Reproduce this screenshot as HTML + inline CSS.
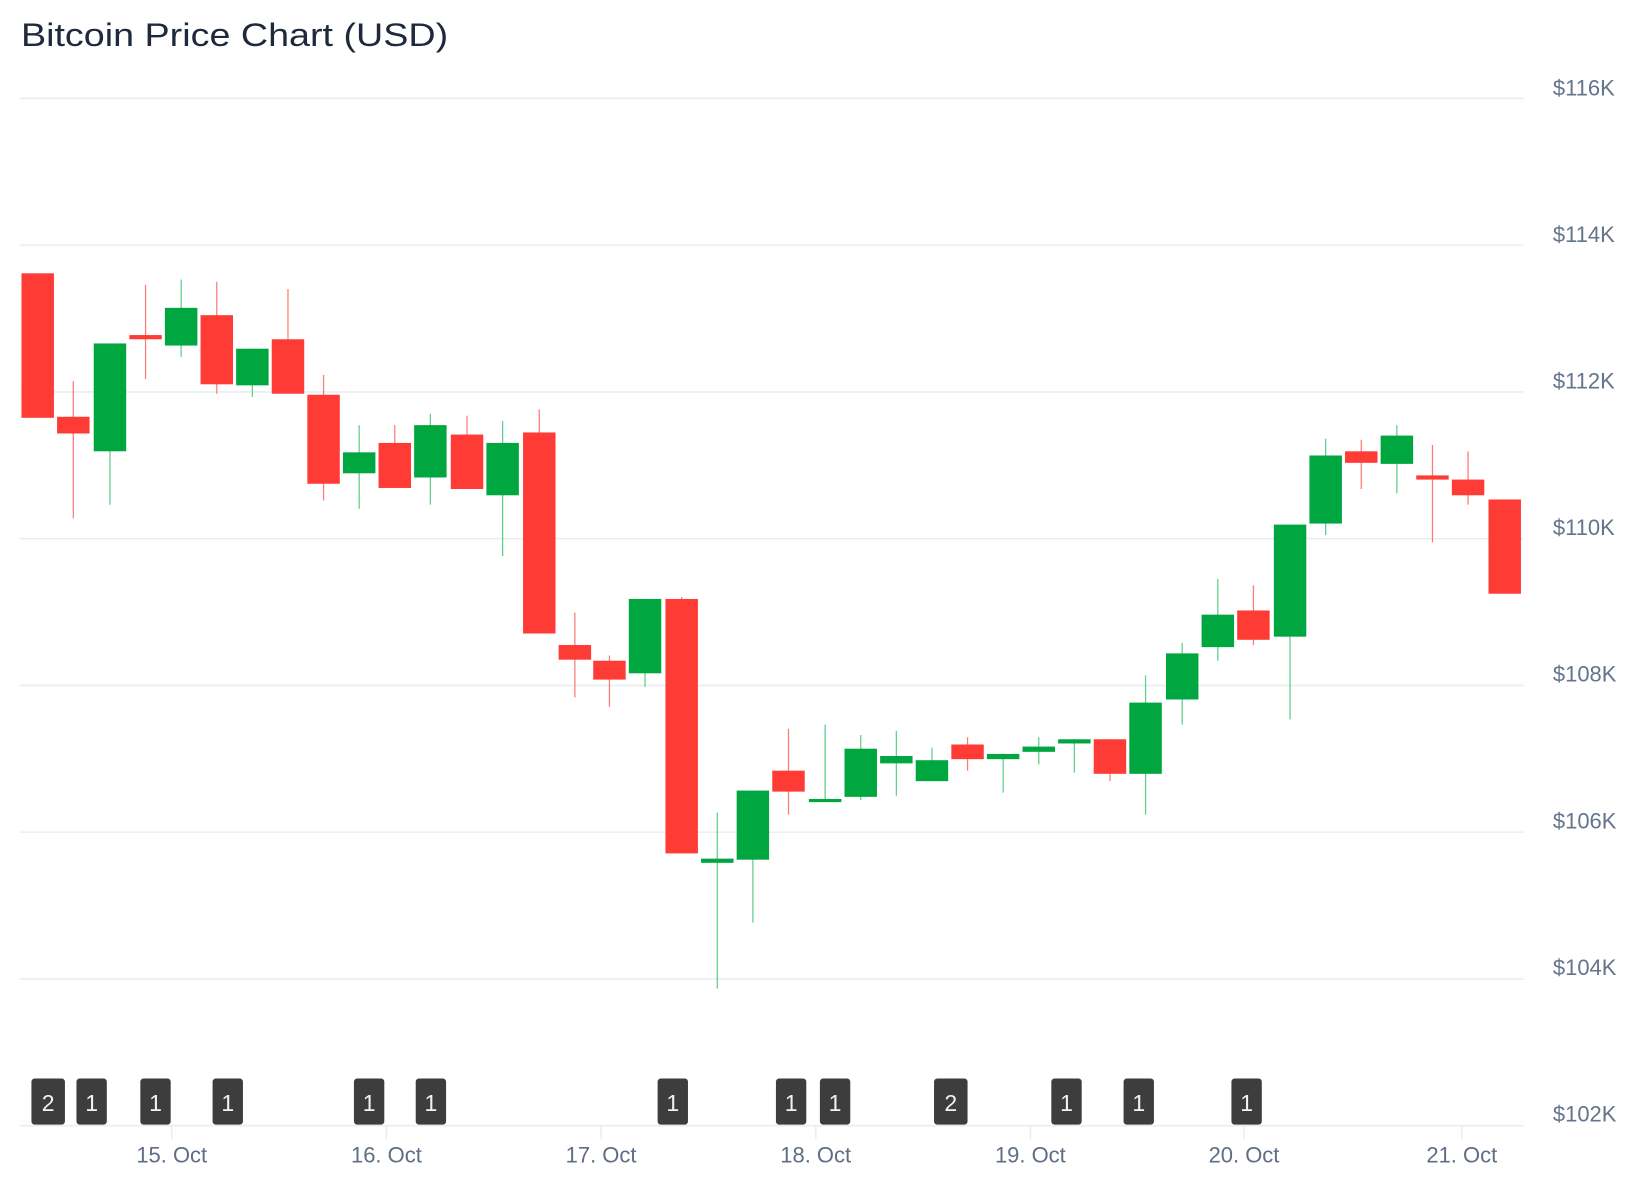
<!DOCTYPE html>
<html><head><meta charset="utf-8"><style>
html,body{margin:0;padding:0;background:#fff;width:1644px;height:1200px;overflow:hidden}
svg{display:block}
text{font-family:"Liberation Sans","DejaVu Sans",sans-serif}
</style></head><body>
<svg width="1644" height="1200" viewBox="0 0 1570 1146" xmlns="http://www.w3.org/2000/svg">
<text x="20" y="44" font-size="31" fill="#1e293b" textLength="408" lengthAdjust="spacingAndGlyphs">Bitcoin Price Chart (USD)</text>
<g stroke="#e9edf2" stroke-width="1.5">
<line x1="19" y1="94" x2="1455" y2="94"/><line x1="19" y1="234.1" x2="1455" y2="234.1"/>
<line x1="19" y1="374.3" x2="1455" y2="374.3"/><line x1="19" y1="514.4" x2="1455" y2="514.4"/>
<line x1="19" y1="654.6" x2="1455" y2="654.6"/><line x1="19" y1="794.7" x2="1455" y2="794.7"/>
<line x1="19" y1="934.9" x2="1455" y2="934.9"/><line x1="19" y1="1075" x2="1455" y2="1075"/>
<line x1="164" y1="1075" x2="164" y2="1088"/><line x1="369" y1="1075" x2="369" y2="1088"/>
<line x1="574" y1="1075" x2="574" y2="1088"/><line x1="779" y1="1075" x2="779" y2="1088"/>
<line x1="984" y1="1075" x2="984" y2="1088"/><line x1="1188" y1="1075" x2="1188" y2="1088"/>
<line x1="1396" y1="1075" x2="1396" y2="1088"/>
</g>
<g font-size="21" fill="#64748b">
<text x="1483" y="91">$116K</text><text x="1483" y="231">$114K</text><text x="1483" y="371">$112K</text>
<text x="1483" y="511">$110K</text><text x="1483" y="651">$108K</text><text x="1483" y="791">$106K</text>
<text x="1483" y="931">$104K</text><text x="1483" y="1071">$102K</text>
</g>
<g font-size="21" fill="#5f6e85" text-anchor="middle">
<text x="164" y="1110">15. Oct</text><text x="369" y="1110">16. Oct</text><text x="574" y="1110">17. Oct</text>
<text x="779" y="1110">18. Oct</text><text x="984" y="1110">19. Oct</text><text x="1188" y="1110">20. Oct</text>
<text x="1396" y="1110">21. Oct</text>
</g>
<g stroke-width="1.2">
<g stroke="#ff7a75">
<line x1="70" y1="364" x2="70" y2="495"/><line x1="139" y1="272" x2="139" y2="362"/>
<line x1="207" y1="269" x2="207" y2="376"/><line x1="275" y1="276" x2="275" y2="376"/>
<line x1="309" y1="358" x2="309" y2="478"/><line x1="377" y1="406" x2="377" y2="466"/>
<line x1="446" y1="397" x2="446" y2="467"/><line x1="515" y1="391" x2="515" y2="605"/>
<line x1="549" y1="585" x2="549" y2="666"/><line x1="582" y1="626" x2="582" y2="675"/>
<line x1="651" y1="570" x2="651" y2="815"/><line x1="753" y1="696" x2="753" y2="778"/>
<line x1="924" y1="704" x2="924" y2="736"/><line x1="1060" y1="706" x2="1060" y2="746"/>
<line x1="1197" y1="559" x2="1197" y2="616"/><line x1="1300" y1="420" x2="1300" y2="467"/>
<line x1="1368" y1="425" x2="1368" y2="518"/><line x1="1402" y1="431" x2="1402" y2="482"/>
</g>
<g stroke="#5fcf8c">
<line x1="105" y1="328" x2="105" y2="482"/><line x1="173" y1="267" x2="173" y2="341"/>
<line x1="241" y1="333" x2="241" y2="379"/><line x1="343" y1="406" x2="343" y2="486"/>
<line x1="411" y1="395" x2="411" y2="482"/><line x1="480" y1="402" x2="480" y2="531"/>
<line x1="616" y1="572" x2="616" y2="656"/><line x1="685" y1="776" x2="685" y2="944"/>
<line x1="719" y1="755" x2="719" y2="881"/><line x1="788" y1="692" x2="788" y2="766"/>
<line x1="822" y1="702" x2="822" y2="764"/><line x1="856" y1="698" x2="856" y2="760"/>
<line x1="890" y1="714" x2="890" y2="746"/><line x1="958" y1="720" x2="958" y2="757"/>
<line x1="992" y1="704" x2="992" y2="730"/><line x1="1026" y1="706" x2="1026" y2="738"/>
<line x1="1094" y1="645" x2="1094" y2="778"/><line x1="1129" y1="614" x2="1129" y2="692"/>
<line x1="1163" y1="553" x2="1163" y2="631"/><line x1="1232" y1="501" x2="1232" y2="687"/>
<line x1="1266" y1="419" x2="1266" y2="511"/><line x1="1334" y1="406" x2="1334" y2="471"/>
</g>
</g>
<g fill="#ff3b35">
<rect x="20.5" y="261" width="31" height="138"/><rect x="54.5" y="398" width="31" height="16"/>
<rect x="123.5" y="320" width="31" height="4"/><rect x="191.5" y="301" width="31" height="66"/>
<rect x="259.5" y="324" width="31" height="52"/><rect x="293.5" y="377" width="31" height="85"/>
<rect x="361.5" y="423" width="31" height="43"/><rect x="430.5" y="415" width="31" height="52"/>
<rect x="499.5" y="413" width="31" height="192"/><rect x="533.5" y="616" width="31" height="14"/>
<rect x="566.5" y="631" width="31" height="18"/><rect x="635.5" y="572" width="31" height="243"/>
<rect x="737.5" y="736" width="31" height="20"/><rect x="908.5" y="711" width="31" height="14"/>
<rect x="1044.5" y="706" width="31" height="33"/><rect x="1181.5" y="583" width="31" height="28"/>
<rect x="1284.5" y="431" width="31" height="11"/><rect x="1352.5" y="454" width="31" height="4"/>
<rect x="1386.5" y="458" width="31" height="15"/><rect x="1421.5" y="477" width="31" height="90"/>
</g>
<g fill="#00a63f">
<rect x="89.5" y="328" width="31" height="103"/><rect x="157.5" y="294" width="31" height="36"/>
<rect x="225.5" y="333" width="31" height="35"/><rect x="327.5" y="432" width="31" height="20"/>
<rect x="395.5" y="406" width="31" height="50"/><rect x="464.5" y="423" width="31" height="50"/>
<rect x="600.5" y="572" width="31" height="71"/><rect x="669.5" y="820" width="31" height="4"/>
<rect x="703.5" y="755" width="31" height="66"/><rect x="772.5" y="763" width="31" height="3"/>
<rect x="806.5" y="715" width="31" height="46"/><rect x="840.5" y="722" width="31" height="7"/>
<rect x="874.5" y="726" width="31" height="20"/><rect x="942.5" y="720" width="31" height="5"/>
<rect x="976.5" y="713" width="31" height="5"/><rect x="1010.5" y="706" width="31" height="4"/>
<rect x="1078.5" y="671" width="31" height="68"/><rect x="1113.5" y="624" width="31" height="44"/>
<rect x="1147.5" y="587" width="31" height="31"/><rect x="1216.5" y="501" width="31" height="107"/>
<rect x="1250.5" y="435" width="31" height="65"/><rect x="1318.5" y="416" width="31" height="27"/>
</g>
<g fill="#3d3d3d">
<rect x="30" y="1030" width="32" height="44" rx="3"/><rect x="73" y="1030" width="29" height="44" rx="3"/>
<rect x="134" y="1030" width="29" height="44" rx="3"/><rect x="203" y="1030" width="29" height="44" rx="3"/>
<rect x="338" y="1030" width="29" height="44" rx="3"/><rect x="397" y="1030" width="29" height="44" rx="3"/>
<rect x="628" y="1030" width="29" height="44" rx="3"/><rect x="741" y="1030" width="29" height="44" rx="3"/>
<rect x="783" y="1030" width="29" height="44" rx="3"/><rect x="892" y="1030" width="32" height="44" rx="3"/>
<rect x="1004" y="1030" width="29" height="44" rx="3"/><rect x="1073" y="1030" width="29" height="44" rx="3"/>
<rect x="1176" y="1030" width="29" height="44" rx="3"/>
</g>
<g font-size="22" fill="#f2f2f2" text-anchor="middle">
<text x="46" y="1061">2</text><text x="87.5" y="1061">1</text><text x="148.5" y="1061">1</text>
<text x="217.5" y="1061">1</text><text x="352.5" y="1061">1</text><text x="411.5" y="1061">1</text>
<text x="642.5" y="1061">1</text><text x="755.5" y="1061">1</text><text x="797.5" y="1061">1</text>
<text x="908" y="1061">2</text><text x="1018.5" y="1061">1</text><text x="1087.5" y="1061">1</text>
<text x="1190.5" y="1061">1</text>
</g>
</svg>
</body></html>
